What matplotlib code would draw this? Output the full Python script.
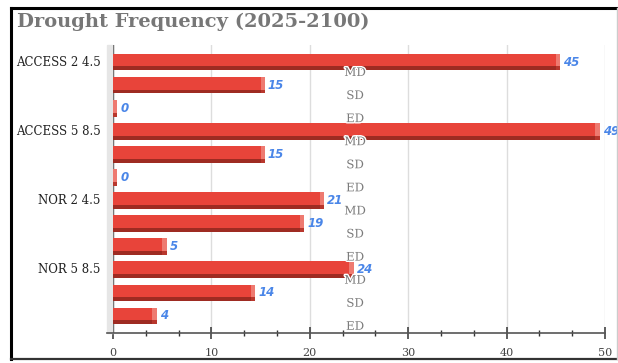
import matplotlib
matplotlib.use("Agg")
import matplotlib.pyplot as plt
import matplotlib.patheffects as pe
from matplotlib.lines import Line2D
import numpy as np

# ── Data ─────────────────────────────────────────────────────────────
scenarios = ["ACCESS 2 4.5", "ACCESS 5 8.5", "NOR 2 4.5", "NOR 5 8.5"]
classes   = ["MD", "SD", "ED"]
counts    = [45, 15, 0,
             49, 15, 0,
             21, 19, 5,
             24, 14, 4]

TITLE     = "Drought Frequency (2025-2100)"
XMAX      = 50
XTICKS    = [0, 10, 20, 30, 40, 50]

RED_TOP   = "#E8443A"
RED_DARK  = "#9E2B22"
RED_SIDE  = "#EE7A70"
VAL_BLUE  = "#4A86E8"

W, H = 618, 363
fig = plt.figure(figsize=(W / 100, H / 100), dpi=100)
fig.patch.set_facecolor("white")

# plot area in pixel terms
left_px, right_px = 113, 605
top_px, bot_px    = 45, 333
ax = fig.add_axes([left_px / W, 1 - bot_px / H,
                   (right_px - left_px) / W, (bot_px - top_px) / H])

n = len(counts)
rows = np.arange(n)
bar_h = 0.72
shade = 0.17       # dark strip under each bar
bevel = 0.45       # width of the lit end face

vals = np.array(counts, dtype=float)
# main face, dark underside, lit end cap
ax.barh(rows, vals, height=bar_h, left=0, color=RED_TOP, zorder=3)
ax.barh(rows + bar_h / 2 - shade / 2, vals, height=shade, left=0,
        color=RED_DARK, zorder=4)
ax.barh(rows - shade / 2, bevel, height=bar_h - shade, left=vals,
        color=RED_SIDE, zorder=4)
ax.barh(rows + bar_h / 2 - shade / 2, bevel, height=shade, left=vals,
        color="#B8372D", zorder=4)

# value labels
for r, v in zip(rows, counts):
    ax.text(v + 0.75, r, f"{v}", color=VAL_BLUE, fontsize=8.5,
            fontweight="bold", style="italic", family="DejaVu Sans",
            va="center", ha="left", zorder=6)

# class labels sit between rows
for r in rows:
    ax.text(24.6, r + 0.45, classes[r % 3], color="#7a7a7a", fontsize=8.5,
            family="DejaVu Serif", va="center", ha="center", zorder=7,
            path_effects=[pe.withStroke(linewidth=2, foreground="white")])

# scenario labels on the left
for i, name in enumerate(scenarios):
    ax.text(-1.25, i * 3, name, color="#222222", fontsize=8.5,
            family="DejaVu Serif", va="center", ha="right")

ax.set_xlim(0, XMAX)
ax.set_ylim(n - 1 + 0.74, -0.74)

# grid and axes
ax.set_yticks([])
ax.set_xticks(XTICKS)
ax.set_xticks(np.arange(0, XMAX + 0.01, 10 / 3), minor=True)
ax.xaxis.grid(True, color="#dddddd", linewidth=1.0, zorder=0)
ax.set_axisbelow(True)
for s in ["top", "right", "left"]:
    ax.spines[s].set_visible(False)
ax.spines["bottom"].set_color("#555555")
ax.spines["bottom"].set_linewidth(1.2)
ax.spines["bottom"].set_bounds(-0.6, XMAX)
ax.tick_params(axis="x", which="major", direction="inout", length=8,
               width=1.1, color="#333333", labelsize=8, labelcolor="#444444",
               pad=7)
ax.tick_params(axis="x", which="minor", direction="inout", length=5,
               width=1.0, color="#333333")
for lbl in ax.get_xticklabels():
    lbl.set_family("DejaVu Serif")

# shaded floor strip at the base of the bars
ax.axvspan(-0.6, 0, color="#e6e6e6", zorder=1, clip_on=False)
ax.axvline(0, color="#777777", linewidth=1.0, zorder=2)

fig.text(17 / W, 1 - 22 / H, TITLE, color="#777777", fontsize=14,
         fontweight="bold", family="DejaVu Serif", va="center", ha="left")

# outer frame
fx0, fx1 = 11 / W, 616.5 / W
fy0, fy1 = 1 - 359 / H, 1 - 8 / H
fig.add_artist(Line2D([fx0, fx0], [fy0, fy1], color="black", linewidth=2.2))
fig.add_artist(Line2D([fx0, fx1], [fy1, fy1], color="black", linewidth=2.2))
fig.add_artist(Line2D([fx0, fx1], [fy0, fy0], color="#333333", linewidth=1.6))
fig.add_artist(Line2D([fx1, fx1], [fy0, fy1], color="#cccccc", linewidth=1.0))

fig.savefig("out.png", dpi=100, facecolor="white")
